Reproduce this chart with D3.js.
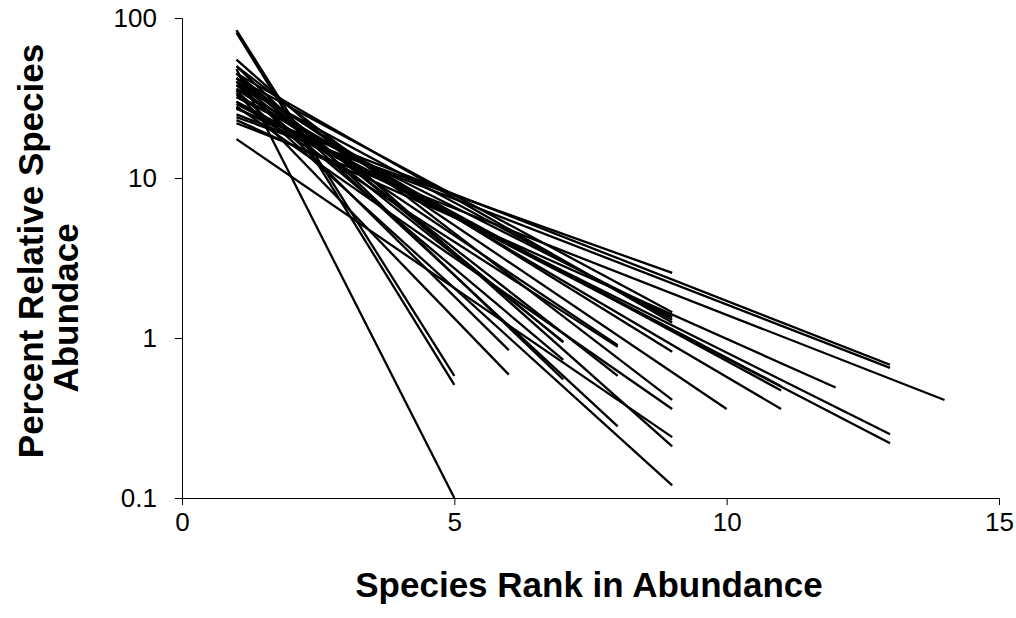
<!DOCTYPE html>
<html>
<head>
<meta charset="utf-8">
<script src="https://cdn.jsdelivr.net/npm/d3@7"></script>
<style>
  body { margin: 0; background: #fff; }
  svg { display: block; font-family: Arial, "Liberation Sans", sans-serif; }
</style>
</head>
<body>
<div id="chart"></div>
<script>
// one entry per plotted community: last rank, value at rank 1, value at last rank
const lastRank = [5, 5, 5, 6, 6, 7, 7, 7, 8, 8, 8, 9, 9, 9, 9, 9, 9, 9, 9, 9, 10, 11, 11, 12, 13, 13, 13, 14, 9, 9, 8, 7, 11, 13];
const firstValue = [84, 81, 48, 34, 40, 45, 38, 50, 30, 42, 45, 24, 38, 45, 40, 50, 28, 17.5, 55, 35, 42, 33, 36, 23, 25, 27.5, 29, 22, 32, 42, 36, 40, 30, 27];
const lastValue = [0.58, 0.51, 0.1, 0.59, 0.84, 0.94, 0.73, 0.55, 0.88, 0.58, 0.28, 2.55, 1.3, 1.25, 0.82, 0.41, 0.36, 0.24, 0.21, 0.12, 0.36, 0.47, 0.36, 0.49, 0.65, 0.25, 0.22, 0.41, 1.35, 1.45, 0.9, 0.95, 0.5, 0.68];

const xTicks = [0, 5, 10, 15];
const yTicks = [0.1, 1, 10, 100];

const width = 1016;
const height = 618;
const margin = { top: 18, right: 17, bottom: 120, left: 182 };
const chartWidth = width - margin.left - margin.right;
const chartHeight = height - margin.top - margin.bottom;

const svg = d3.select("#chart")
  .append("svg")
  .attr("width", width)
  .attr("height", height);

const g = svg.append("g")
  .attr("transform", `translate(${margin.left}, ${margin.top})`);

const x = d3.scaleLinear().domain([0, 15]).range([0, chartWidth]);
const y = d3.scaleLog().domain([0.1, 100]).range([chartHeight, 0]);

const series = lastRank.map((n, i) => [
  { rank: 1, value: firstValue[i] },
  { rank: n, value: lastValue[i] },
]);

const line = d3.line()
  .x((d) => x(d.rank))
  .y((d) => y(d.value));

g.selectAll(".series")
  .data(series)
  .enter()
  .append("path")
  .attr("class", "series")
  .attr("d", line)
  .attr("fill", "none")
  .attr("stroke", "#000")
  .attr("stroke-width", 2.3);

// axes
const xAxis = g.append("g")
  .attr("transform", `translate(0, ${chartHeight})`)
  .call(d3.axisBottom(x).tickValues(xTicks).tickSize(7).tickPadding(8).tickFormat(d3.format("d")));

const yAxis = g.append("g")
  .call(d3.axisLeft(y).tickValues(yTicks).tickSize(7).tickPadding(18).tickFormat((d) => String(d)));

[xAxis, yAxis].forEach((axis) => {
  axis.select(".domain").attr("stroke", "#000").attr("stroke-width", 1);
  axis.selectAll(".tick line").attr("stroke", "#000");
  axis.selectAll(".tick text")
    .attr("fill", "#000")
    .style("font-size", "26px")
    .style("font-family", "Arial, 'Liberation Sans', sans-serif");
});

// axis titles
svg.append("text")
  .attr("x", 589)
  .attr("y", 597)
  .attr("text-anchor", "middle")
  .style("font-size", "35px")
  .style("font-weight", "bold")
  .text("Species Rank in Abundance");

svg.append("text")
  .attr("transform", "translate(43, 251) rotate(-90)")
  .attr("text-anchor", "middle")
  .style("font-size", "35px")
  .style("font-weight", "bold")
  .text("Percent Relative Species");

svg.append("text")
  .attr("transform", "translate(78, 308) rotate(-90)")
  .attr("text-anchor", "middle")
  .style("font-size", "35px")
  .style("font-weight", "bold")
  .text("Abundace");
</script>
</body>
</html>
